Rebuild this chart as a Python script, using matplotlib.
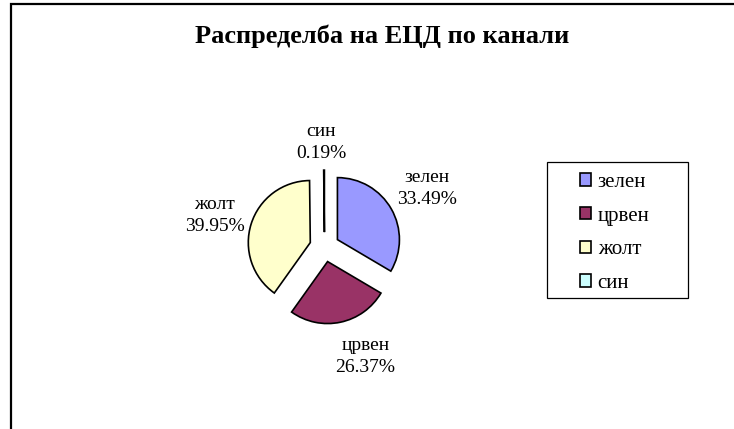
import math
import matplotlib
matplotlib.use('Agg')
import matplotlib.pyplot as plt
from matplotlib.patches import Rectangle, Patch

plt.rcParams['font.family'] = ['Liberation Serif', 'DejaVu Serif']

title = 'Распределба на ЕЦД по канали'
channels = ['зелен', 'црвен', 'жолт', 'син']
shares = [33.49, 26.37, 39.95, 0.19]
colors = ['#9999FF', '#993366', '#FFFFCC', '#CCFFFF']

# label placement (distance from pie centre in radii, angle nudge in degrees)
lbl_dist = [1.91, 1.88, 1.84, 1.68]
lbl_turn = [0, 8.5, 1.5, 1.5]

W, H = 734, 429
fig = plt.figure(figsize=(W / 100, H / 100), dpi=100)

# outer chart frame (runs off the right and bottom edges)
fig.patches.append(Rectangle((11 / W, -0.1), 1.2, 1.1 - 4 / H, transform=fig.transFigure,
                             fill=False, edgecolor='black', linewidth=1.6))

fig.text(382 / W, 1 - 36 / H, title, ha='center', va='center',
         fontsize=19, fontweight='bold')

# pie axes: centre (324.5, 247) px, radius 62 px
cx, cy, R, L = 324.5, 247, 62, 2.5
S = 2 * L * R
ax = fig.add_axes([(cx - S / 2) / W, (H - cy - S / 2) / H, S / W, S / H])
wedges, _ = ax.pie(shares, colors=colors, startangle=90, counterclock=False,
                   explode=[0.24] * len(shares),
                   wedgeprops=dict(edgecolor='black', linewidth=1.2))
ax.set_xlim(-L, L)
ax.set_ylim(-L, L)
ax.set_aspect('equal')
ax.axis('off')

for w, name, val, d, t in zip(wedges, channels, shares, lbl_dist, lbl_turn):
    ang = math.radians((w.theta1 + w.theta2) / 2 + t)
    ax.text(d * math.cos(ang), d * math.sin(ang), f'{name}\n{val:.2f}%',
            ha='center', va='center', fontsize=14, linespacing=1.4)

# legend
fig.patches.append(Rectangle((547 / W, 1 - 298 / H), 141 / W, 136 / H, transform=fig.transFigure,
                             fill=False, edgecolor='black', linewidth=0.9))
handles = [Patch(facecolor=c, edgecolor='black', linewidth=1.2) for c in colors]
fig.legend(handles, channels, loc='upper left', bbox_to_anchor=(580 / W, 1 - 173 / H),
           frameon=False, fontsize=15, handlelength=0.55, handleheight=0.55,
           handletextpad=0.3, labelspacing=0.7, borderpad=0, borderaxespad=0)

fig.savefig('out.png', dpi=100, facecolor='white')
